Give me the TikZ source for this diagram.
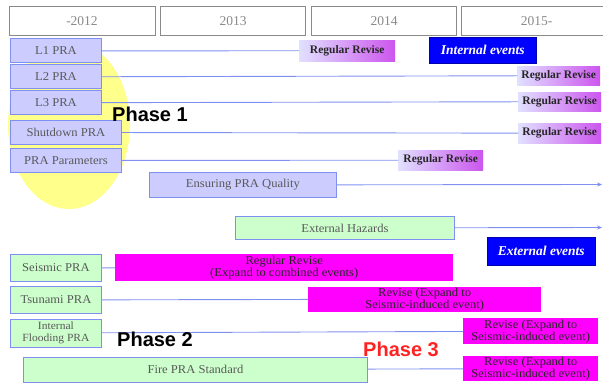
\documentclass[tikz,border=0pt]{standalone}
\usepackage{fontspec}
\usepackage{xcolor}
\setmainfont{Liberation Serif}
\newfontfamily\boxfont[FakeStretch=1.05]{Liberation Serif}
\newfontfamily\phasefont{Liberation Sans}
\usepackage{tikz}
\usetikzlibrary{positioning,arrows.meta}

\definecolor{lav}{HTML}{CCCCFF}
\definecolor{lavline}{HTML}{8090F0}
\definecolor{mint}{HTML}{CCFFCC}
\definecolor{revmag}{HTML}{CC55EE}
\definecolor{hotpink}{HTML}{FF00FF}
\definecolor{hdrgray}{HTML}{8A8A8A}
\definecolor{blob}{HTML}{FFFF8C}
\definecolor{phred}{HTML}{FF2222}

\tikzset{
  yearbox/.style={draw=hdrgray, line width=1pt, fill=white, minimum height=29, anchor=north west, inner sep=0pt, text=hdrgray, font=\fontsize{13.5}{14}\selectfont},
  prabox/.style={draw=lavline, fill=lav, line width=0.9pt, anchor=north west, inner sep=0pt, text=black!65, font=\boxfont\fontsize{12}{10}\selectfont, align=center},
  hazbox/.style={prabox, fill=mint},
  revbox/.style={anchor=north west, inner sep=0pt, left color=lav!60, right color=revmag, text=black!85, font=\bfseries\fontsize{11.5}{12}\selectfont},
  expbox/.style={anchor=north west, inner sep=0pt, fill=hotpink, align=center, text=black!85, font=\boxfont\fontsize{12}{10.5}\selectfont},
  eventbox/.style={anchor=north west, fill=blue, draw=blue!70!black, inner sep=0pt, text=white, font=\bfseries\itshape\fontsize{13.5}{14}\selectfont},
  phase/.style={font=\phasefont\bfseries\fontsize{20}{20}\selectfont},
  link/.style={draw=lavline, line width=0.9pt},
}

\begin{document}
\begin{tikzpicture}[x=1pt, y=-1pt]
  \useasboundingbox (0,0) rectangle (603,385);

  % yellow region behind phase 1
  \fill[blob] (69,125) ellipse [x radius=61, y radius=84];

  % years
  \node[yearbox, minimum width=146] (y12) at (8.5,6) {-2012};
  \node[yearbox, minimum width=145] (y13) at (160,6) {2013};
  \node[yearbox, minimum width=145] (y14) at (311,6) {2014};
  \node[yearbox, minimum width=150] (y15) at (461,6) {2015-};

  % internal events
  \node[prabox, minimum width=91, minimum height=24] (l1) at (10,38.5) {L1 PRA};
  \node[prabox, minimum width=91, minimum height=24, below=1pt of l1] (l2) {L2 PRA};
  \node[prabox, minimum width=91, minimum height=24, below=1pt of l2] (l3) {L3 PRA};
  \node[prabox, minimum width=111, minimum height=24] (sd) at (10,120) {Shutdown PRA};
  \node[prabox, minimum width=111, minimum height=24] (par) at (10,148) {PRA Parameters};
  \node[prabox, minimum width=187, minimum height=25] (qual) at (149,172) {Ensuring PRA Quality};
  \node[hazbox, minimum width=219, minimum height=23] (ext) at (235,216) {External Hazards};

  \node[revbox, minimum width=96, minimum height=21] (rv1) at (299,40) {Regular Revise};
  \node[revbox, minimum width=83, minimum height=19] (rv2) at (517,66) {Regular Revise};
  \node[revbox, minimum width=83, minimum height=19] (rv3) at (518,92) {Regular Revise};
  \node[revbox, minimum width=83, minimum height=20] (rv4) at (518,123) {Regular Revise};
  \node[revbox, minimum width=85, minimum height=20] (rv5) at (398,150) {Regular Revise};

  \node[eventbox, minimum width=107, minimum height=26] (intev) at (429,37) {Internal events};
  \node[eventbox, minimum width=108, minimum height=28] (extev) at (487,237) {External events};

  \coordinate (qend) at (602,184.5);
  \coordinate (eend) at (602,227.5);

  % external events
  \node[hazbox, minimum width=91, minimum height=27] (seis) at (10,254) {Seismic PRA};
  \node[hazbox, minimum width=91, minimum height=27] (tsu) at (10,286) {\raisebox{-2pt}{Tsunami PRA}};
  \node[hazbox, minimum width=91, minimum height=28, font=\boxfont\fontsize{11}{11.5}\selectfont] (flood) at (10,318.5) {Internal\\Flooding PRA};
  \node[hazbox, minimum width=344, minimum height=25] (fire) at (23,356.5) {Fire PRA Standard};

  \node[expbox, minimum width=338, minimum height=27] (ex1) at (115,254) {Regular Revise\\(Expand to combined events)};
  \node[expbox, minimum width=233, minimum height=25] (ex2) at (308,286.5) {Revise (Expand to\\Seismic-induced event)};
  \node[expbox, minimum width=135, minimum height=26] (ex3) at (463,318) {Revise (Expand to\\Seismic-induced event)};
  \node[expbox, minimum width=135, minimum height=25] (ex4) at (463,356) {Revise (Expand to\\Seismic-induced event)};

  \path[link]
    (l1) edge (rv1)
    (l2) edge (rv2)
    (l3) edge (rv3)
    (sd) edge (rv4)
    (par) edge (rv5)
    (qual) edge[-{Stealth[length=5pt, width=4pt]}] (qend)
    (ext) edge[-{Stealth[length=5pt, width=4pt]}] (eend)
    (seis) edge (ex1)
    (tsu) edge (ex2)
    (flood) edge (ex3)
    (fire) edge (ex4);

  \node[phase] (ph1) at (150,114) {Phase 1};
  \node[phase] (ph2) at (155,339.5) {Phase 2};
  \node[phase, text=phred] (ph3) at (401,349.5) {Phase 3};
\end{tikzpicture}
\end{document}
